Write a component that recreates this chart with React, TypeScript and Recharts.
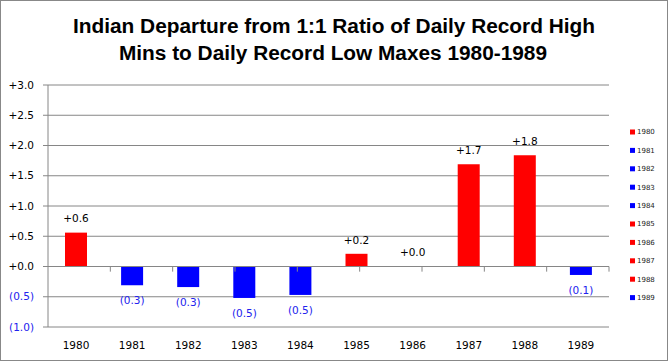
import React from 'react';
import { ComposedChart, Bar, Scatter, XAxis, YAxis, CartesianGrid, Cell, ReferenceLine, LabelList } from 'recharts';

const years = ['1980', '1981', '1982', '1983', '1984', '1985', '1986', '1987', '1988', '1989'];
const departures = [0.56, -0.31, -0.34, -0.52, -0.47, 0.21, 0.0, 1.69, 1.84, -0.14];
const yTicks = [-1, -0.5, 0, 0.5, 1, 1.5, 2, 2.5, 3];
const boundaryTicks = [1, 2, 3, 4, 5, 6, 7, 8, 9, 10];
const titleLines = [
  'Indian Departure from 1:1 Ratio of Daily Record High',
  'Mins to Daily Record Low Maxes 1980-1989',
];

const RED = '#FF0000';
const BLUE = '#0000FF';
const GRID = '#868686';
const FONT = '"DejaVu Sans", Verdana, sans-serif';

const data = years.map((year, i) => ({ year, value: departures[i] }));

const fmt = (v: number) => (v < 0 ? `(${Math.abs(v).toFixed(1)})` : `+${v.toFixed(1)}`);
const colorOf = (v: number) => (v < 0 ? BLUE : RED);

const YTick = (props: any) => {
  const { x, y, payload } = props;
  const v = payload.value as number;
  return (
    <text x={x} y={y} dy="0.355em" textAnchor="end" fontFamily={FONT} fontSize={10.5} fill={v < 0 ? '#2222EE' : '#000'}>
      {fmt(v)}
    </text>
  );
};

const XTick = (props: any) => {
  const { x, y, payload } = props;
  return (
    <text x={x} y={y} dy="0.355em" textAnchor="middle" fontFamily={FONT} fontSize={10.5} fill="#000">
      {payload.value}
    </text>
  );
};

const ValueLabel = (props: any) => {
  const { x, y, width, height, value } = props;
  const v = value as number;
  const cx = x + (width || 0) / 2;
  const cy = y + (height || 0) / 2;
  if (v < 0) {
    return (
      <text x={cx} y={cy + 15} dy="0.355em" textAnchor="middle" fontFamily={FONT} fontSize={10.5} fill="#2222EE">
        {fmt(v)}
      </text>
    );
  }
  return (
    <text x={cx} y={cy - 14} dy="0.355em" textAnchor="middle" fontFamily={FONT} fontSize={10.5} fill="#000">
      {fmt(v)}
    </text>
  );
};

const NoShape = () => <g />;

export default function App() {
  return (
    <div
      style={{
        position: 'absolute',
        left: 0,
        top: 0,
        width: 668,
        height: 361,
        boxSizing: 'border-box',
        border: '1px solid #888',
        background: '#fff',
        overflow: 'hidden',
      }}
    >
      <div style={{ position: 'absolute', left: -1, top: -1 }}>
        <ComposedChart width={668} height={361} data={data} margin={{ top: 85, right: 59, bottom: 4, left: 0 }} barSize={22}>
          <CartesianGrid vertical={false} stroke={GRID} strokeWidth={1} />
          <XAxis
            dataKey="year"
            xAxisId={0}
            axisLine={false}
            tickLine={false}
            tickSize={0}
            tickMargin={18}
            height={30}
            tick={<XTick />}
            interval={0}
          />
          <XAxis xAxisId="b" type="number" domain={[0, 10]} hide />
          <YAxis
            domain={[-1, 3]}
            ticks={yTicks}
            width={48}
            axisLine={{ stroke: GRID }}
            tickLine={{ stroke: GRID }}
            tickSize={5}
            tickMargin={9}
            tick={<YTick />}
            interval={0}
          />
          <ReferenceLine y={0} stroke={GRID} strokeWidth={1} />
          {boundaryTicks.map((b) => (
            <ReferenceLine
              key={b}
              xAxisId="b"
              stroke={GRID}
              strokeWidth={1}
              segment={[
                { x: b, y: 0 },
                { x: b, y: -0.085 },
              ]}
            />
          ))}
          <Bar dataKey="value" isAnimationActive={false}>
            {data.map((d) => (
              <Cell key={d.year} fill={colorOf(d.value)} />
            ))}
          </Bar>
          <Scatter dataKey="value" isAnimationActive={false} shape={<NoShape />} legendType="none">
            <LabelList dataKey="value" content={<ValueLabel />} />
          </Scatter>
        </ComposedChart>
      </div>
      <svg width={668} height={361} style={{ position: 'absolute', left: -1, top: -1, pointerEvents: 'none' }}>
        <text
          x={73}
          y={33}
          fontFamily='"Liberation Sans", Arial, sans-serif'
          fontWeight="bold"
          fontSize={20}
          textLength={522}
          lengthAdjust="spacingAndGlyphs"
          fill="#000"
        >
          {titleLines[0]}
        </text>
        <text
          x={119}
          y={60}
          fontFamily='"Liberation Sans", Arial, sans-serif'
          fontWeight="bold"
          fontSize={20}
          textLength={428}
          lengthAdjust="spacingAndGlyphs"
          fill="#000"
        >
          {titleLines[1]}
        </text>
        {years.map((yr, i) => (
          <g key={yr}>
            <rect x={630} y={129.5 + i * 18.4} width={5} height={5} fill={colorOf(departures[i])} />
            <text x={637} y={132 + i * 18.4} dy="0.355em" fontFamily={FONT} fontSize={7} fill="#222">
              {yr}
            </text>
          </g>
        ))}
      </svg>
    </div>
  );
}
